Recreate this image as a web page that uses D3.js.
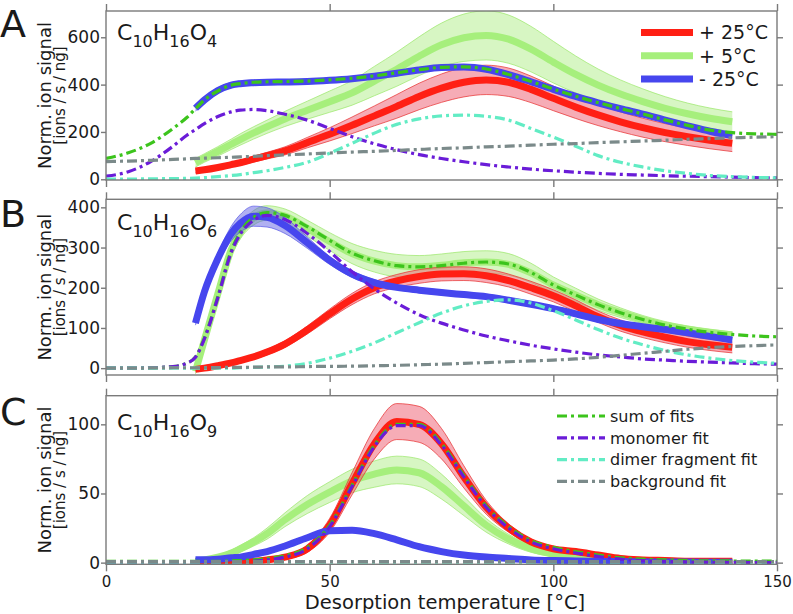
<!DOCTYPE html>
<html><head><meta charset="utf-8">
<script src="https://cdn.jsdelivr.net/npm/d3@7"></script>
<style>
body{margin:0;background:#fff}
svg{display:block}
text{font-family:"DejaVu Sans",sans-serif;fill:#1a1a1a}
</style>
</head><body>
<svg id="chart" width="793" height="614"></svg>
<script>
// ---------------- DATA ----------------
const xTicks = [0, 50, 100, 150];
const yTicksA = [0, 200, 400, 600];
const yTicksB = [0, 100, 200, 300, 400];
const yTicksC = [0, 50, 100];
const panelLetters = ["A", "B", "C"];
const oxygenSubs = ["4", "6", "9"];
const tempLabels = ["+ 25°C", "+ 5°C", "- 25°C"];
const fitLabels = ["sum of fits", "monomer fit", "dimer fragment fit", "background fit"];
const xLabel = "Desorption temperature [°C]";
const yLabel = "Norm. ion signal";
const yUnit = "[ions / s / ng]";

// temperature grid for measured curves
const xTemp = [20,22,25,28,30,33,36,40,45,50,55,60,65,70,75,80,85,90,95,100,105,110,115,120,125,130,135,140];
// grid for fit curves
const xFit = [0,5,10,15,18,20,22,25,28,30,33,36,40,45,50,55,60,65,70,75,80,85,90,95,100,105,110,115,120,125,130,135,140,145,150];

// Panel A  C10H16O4
const redA       = [35,40,50,62,70,85,100,120,155,190,228,268,308,350,385,410,420,410,380,342,305,272,243,218,197,180,165,152];
const redBandA   = [8,8,9,10,11,12,14,17,22,28,35,42,50,56,60,62,62,60,56,52,48,45,42,40,38,37,36,35];
const greenA     = [70,90,118,148,168,196,222,255,292,328,365,415,465,520,568,598,608,592,550,495,443,398,360,328,300,277,258,243];
const greenBandA = [18,18,20,22,24,26,28,32,38,45,52,62,72,82,92,100,104,102,96,88,78,68,60,54,49,45,43,42];
const blueA      = [300,335,375,398,404,408,410,411,413,418,425,435,448,462,472,474,465,442,412,380,350,323,298,275,250,226,203,185];
const blueBandA  = [12,12,12,11,11,11,11,10,10,10,10,10,10,10,10,10,10,10,10,10,10,10,10,10,10,10,10,10];
const sumA   = [88,112,152,215,260,298,335,373,398,404,410,412,413,415,420,427,437,450,463,473,475,466,443,413,381,351,324,299,276,251,228,208,197,192,190];
const monoA  = [13,32,75,140,185,210,235,265,285,292,295,290,275,250,215,180,150,125,104,88,74,62,52,43,36,30,25,21,18,15,13,11,9,7,6];
const dimerA = [1,1,2,3,4,5,7,11,16,20,28,36,50,72,110,152,195,232,255,268,271,266,250,215,178,140,100,72,52,36,25,16,11,8,6];
const bgA    = [75,77,80,84,86,88,89,91,93,95,97,100,103,107,111,115,118,122,126,130,133,137,140,144,148,151,155,158,162,165,169,172,175,178,180];

// Panel B  C10H16O6
const redB       = [-3,0,6,13,19,28,40,60,95,135,172,200,217,228,234,235,230,218,200,180,155,128,106,90,77,66,58,52];
const redBandB   = [4,4,4,5,5,6,7,8,10,12,14,15,16,17,17,17,17,16,16,15,15,14,14,14,14,14,14,14];
const greenB     = [-8,70,185,295,338,374,386,378,348,315,285,266,255,252,256,262,264,258,237,207,182,158,138,121,107,97,89,83];
const greenBandB = [6,10,14,16,17,18,18,18,20,22,25,27,28,28,28,28,28,27,24,20,17,14,12,10,9,8,8,7];
const blueB      = [112,190,272,335,360,378,375,355,312,268,234,213,201,194,188,183,178,169,159,148,135,121,111,103,96,88,79,70];
const blueBandB  = [5,8,12,18,22,25,24,20,14,10,8,7,6,6,6,6,6,6,6,6,6,6,6,6,6,6,6,6];
const sumB   = [0,0,1,4,12,28,75,178,292,338,375,387,380,352,318,286,267,255,252,255,261,264,259,238,207,182,158,138,121,107,97,89,84,80,78];
const monoB  = [0,0,1,4,12,27,73,175,288,333,368,380,370,335,290,240,197,162,133,112,95,80,68,57,48,40,33,28,23,20,17,15,13,11,10];
const dimerB = [0,0,0,0,0,0,0,0,0,1,2,3,5,12,25,42,63,88,113,137,155,166,170,162,143,120,96,75,58,44,33,25,19,15,12];
const bgB    = [0,0,0.5,1,1,1,1,1.5,2,2,2.5,3,3,4,4.5,5,6,7,8.5,10,12,14,16,18,20,23,27,32,37,42,47,51,54,56,58];

// Panel C  C10H16O9
const redC       = [-1,-0.5,0,0.3,0.5,1,2,4,10,27,57,86,102,100,86,62,40,25,15,10,8,5.5,3,2,1.5,1,1,1];
const redBandC   = [1,1,1,1,1,1,1,1.5,2.5,5,8,11,13,13,11,8,5,3,2,1.5,1.5,1,1,1,1,1,1,1];
const greenC     = [1,2,4,7,10,15,21,31,42,51,59,64,67,65,55,41,27,17,10,6,4,2.5,1.5,1,0.8,0.6,0.5,0.4];
const greenBandC = [1,1,1.5,2,2.5,3,4,5,6.5,7.5,8.5,9.5,10,10,9,7,5,3.5,2.5,1.5,1,1,1,1,1,1,1,1];
const blueC      = [2,2,2.5,3.5,4,6,8,12,18,23,23.5,21,16.5,11.5,8,5.5,4,3,2,1.5,1.2,1,0.8,0.6,0.5,0.4,0.3,0.3];
const blueBandC  = [1,1,1,1,1,1,1,1,1,1,1,1,1,1,1,1,1,1,1,1,1,1,1,1,1,1,1,1];
const sumC   = [1,1,1,1,1,1,1,1,1.2,1.5,2,3,5,11,27,56,85,100,100,86,63,41,26,16,11,8,5.5,3.5,2.5,2,1.5,1.3,1.2,1.1,1];
const monoC  = [0,0,0,0,0,0,0,0,0.2,0.5,1,2,4,10,26,55,84,99,99,85,62,40,25,15,10,7,4.5,2.5,1.5,1,0.5,0.3,0.2,0.1,0];
const dimerC = [0.4,0.4,0.4,0.4,0.4,0.4,0.4,0.4,0.4,0.4,0.4,0.4,0.4,0.4,0.4,0.4,0.4,0.4,0.4,0.4,0.4,0.4,0.4,0.4,0.4,0.4,0.4,0.4,0.4,0.4,0.4,0.4,0.4,0.4,0.4];
const bgC    = [0.8,0.8,0.8,0.8,0.8,0.8,0.8,0.8,0.8,0.8,0.8,0.8,0.8,0.8,0.8,0.8,0.8,0.8,0.8,0.8,0.8,0.8,0.8,0.8,0.8,0.8,0.8,0.8,0.8,0.8,0.8,0.8,0.8,0.8,0.8];

// ---------------- STYLE / LAYOUT ----------------
const tempStyle = {
  red:   {line:"#ff1f14", fill:"#ee5a6e", fo:0.5,  edge:"#e83030"},
  green: {line:"#a6ef7c", fill:"#9be86a", fo:0.4,  edge:"#9be86a"},
  blue:  {line:"#4646ee", fill:"#5050e0", fo:0.45, edge:"#5a5ae8"}
};
const fitColors = ["#3cc41c", "#6a1cd8", "#62ecc4", "#7b8a8a"];
const frameColor = "#7a7a7a";

const svg = d3.select("#chart");
const x = d3.scaleLinear().domain([0, 150]).range([106, 777]);

const panels = [
  {top:11,  bottom:180,   dom:[-3, 711],    yTicks:yTicksA, letterY:37,  formulaY:40,
   temps:{red:[redA,redBandA], green:[greenA,greenBandA], blue:[blueA,blueBandA]},
   fits:[sumA, monoA, dimerA, bgA]},
  {top:199.3, bottom:375, dom:[-17, 420],   yTicks:yTicksB, letterY:227, formulaY:230,
   temps:{red:[redB,redBandB], green:[greenB,greenBandB], blue:[blueB,blueBandB]},
   fits:[sumB, monoB, dimerB, bgB]},
  {top:395.7, bottom:564.3, dom:[-1.2, 120.7], yTicks:yTicksC, letterY:425, formulaY:430,
   temps:{red:[redC,redBandC], green:[greenC,greenBandC], blue:[blueC,blueBandC]},
   fits:[sumC, monoC, dimerC, bgC]}
];

const dashFit = "10,4,3,4";

panels.forEach((p, i) => {
  const y = d3.scaleLinear().domain(p.dom).range([p.bottom, p.top]);
  const cid = "clip" + i;
  svg.append("clipPath").attr("id", cid).append("rect")
    .attr("x", x(0)).attr("y", p.top).attr("width", x(150) - x(0)).attr("height", p.bottom - p.top);
  const plot = svg.append("g").attr("clip-path", `url(#${cid})`);

  // measured temperature curves: green, red, blue
  ["green", "red", "blue"].forEach(key => {
    const st = tempStyle[key];
    const [vals, band] = p.temps[key];
    const pts = xTemp.map((xv, k) => ({x: xv, v: vals[k], h: band[k]}));
    plot.append("path").datum(pts)
      .attr("d", d3.area().x(d => x(d.x)).y0(d => y(d.v - d.h)).y1(d => y(d.v + d.h)).curve(d3.curveMonotoneX))
      .attr("fill", st.fill).attr("fill-opacity", st.fo).attr("stroke", "none");
    [-1, 1].forEach(sgn => {
      plot.append("path").datum(pts)
        .attr("d", d3.line().x(d => x(d.x)).y(d => y(d.v + sgn * d.h)).curve(d3.curveMonotoneX))
        .attr("fill", "none").attr("stroke", st.edge).attr("stroke-width", 0.8).attr("stroke-opacity", 0.9);
    });
    plot.append("path").datum(pts)
      .attr("d", d3.line().x(d => x(d.x)).y(d => y(d.v)).curve(d3.curveMonotoneX))
      .attr("fill", "none").attr("stroke", st.line).attr("stroke-width", 7);
  });

  // fit curves
  p.fits.forEach((vals, f) => {
    const pts = xFit.map((xv, k) => ({x: xv, v: vals[k]}));
    plot.append("path").datum(pts)
      .attr("d", d3.line().x(d => x(d.x)).y(d => y(d.v)).curve(d3.curveMonotoneX))
      .attr("fill", "none").attr("stroke", fitColors[f]).attr("stroke-width", 3.2)
      .attr("stroke-dasharray", dashFit);
  });

  // frame
  svg.append("rect").attr("x", x(0)).attr("y", p.top)
    .attr("width", x(150) - x(0)).attr("height", p.bottom - p.top)
    .attr("fill", "none").attr("stroke", frameColor).attr("stroke-width", 1.4);

  const styleAxis = g => {
    g.select(".domain").remove();
    g.selectAll(".tick line").attr("stroke", frameColor).attr("stroke-width", 1.4);
    g.selectAll(".tick text").attr("fill", "#1a1a1a").style("font-family", '"DejaVu Sans",sans-serif');
  };
  svg.append("g").attr("transform", `translate(${x(0)},0)`)
    .call(d3.axisLeft(y).tickValues(p.yTicks).tickSize(5).tickPadding(1).tickFormat(d3.format("d")))
    .call(styleAxis).selectAll("text").style("font-size", "17px");
  svg.append("g").attr("transform", `translate(${x(150)},0)`)
    .call(d3.axisRight(y).tickValues(p.yTicks).tickSize(6).tickFormat(""))
    .call(styleAxis);
  svg.append("g").attr("transform", `translate(0,${p.top})`)
    .call(d3.axisTop(x).tickValues(xTicks).tickSize(7).tickFormat(""))
    .call(styleAxis);
  const bx = svg.append("g").attr("transform", `translate(0,${p.bottom})`)
    .call(d3.axisBottom(x).tickValues(xTicks).tickSize(7).tickPadding(5)
      .tickFormat(i === 2 ? d3.format("d") : ""))
    .call(styleAxis);
  bx.selectAll("text").style("font-size", "15px");

  // panel letter
  svg.append("text").attr("x", 0).attr("y", p.letterY)
    .style("font-size", "38px").text(panelLetters[i]);

  // formula
  const ft = svg.append("text").attr("x", 117).attr("y", p.formulaY).style("font-size", "22px");
  ft.append("tspan").text("C");
  ft.append("tspan").attr("dy", 7).style("font-size", "16px").text("10");
  ft.append("tspan").attr("dy", -7).text("H");
  ft.append("tspan").attr("dy", 7).style("font-size", "16px").text("16");
  ft.append("tspan").attr("dy", -7).text("O");
  ft.append("tspan").attr("dy", 7).style("font-size", "16px").text(oxygenSubs[i]);

  // y labels
  const cy = (p.top + p.bottom) / 2;
  svg.append("text").attr("transform", `translate(51,${cy}) rotate(-90)`)
    .attr("text-anchor", "middle").style("font-size", "18px").text(yLabel);
  svg.append("text").attr("transform", `translate(64.5,${cy}) rotate(-90)`)
    .attr("text-anchor", "middle").style("font-size", "15px").text(yUnit);
});

// legend A (temperatures)
["red", "green", "blue"].forEach((key, k) => {
  const ly = 32.5 + k * 23.3;
  svg.append("line").attr("x1", 641).attr("x2", 693).attr("y1", ly).attr("y2", ly)
    .attr("stroke", tempStyle[key].line).attr("stroke-width", 7);
  svg.append("text").attr("x", 699).attr("y", ly).attr("dy", "0.36em")
    .style("font-size", "19px").text(tempLabels[k]);
});

// legend C (fits)
fitLabels.forEach((lab, k) => {
  const ly = 416 + k * 21.8;
  svg.append("line").attr("x1", 557).attr("x2", 605).attr("y1", ly).attr("y2", ly)
    .attr("stroke", fitColors[k]).attr("stroke-width", 3.2).attr("stroke-dasharray", dashFit);
  svg.append("text").attr("x", 610).attr("y", ly).attr("dy", "0.36em")
    .style("font-size", "16px").text(lab);
});

// x-axis title
svg.append("text").attr("x", 445).attr("y", 609).attr("text-anchor", "middle")
  .style("font-size", "19.5px").text(xLabel);
</script>
</body></html>
